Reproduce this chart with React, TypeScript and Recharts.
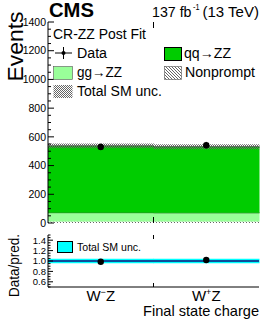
import React from 'react';
import { ComposedChart, Bar, Line, XAxis, YAxis, ErrorBar, ReferenceLine } from 'recharts';

// ---------- data ----------
const categories = ['W⁻Z', 'W⁺Z'];
const nonpromptValues = [10, 10];
const ggZZValues = [62, 61];
const qqZZValues = [465, 460];
const totalUncValues = [17, 17];
const dataValues = [530, 542];
const dataErrors = [23, 23];
const ratioValues = [0.987, 1.02];
const ratioErrors = [0.043, 0.043];
const ratioBandUnc = [0.045, 0.045];

const eventTicks = [0, 50, 100, 150, 200, 250, 300, 350, 400, 450, 500, 550, 600, 650, 700, 750, 800, 850, 900, 950, 1000, 1050, 1100, 1150, 1200, 1250, 1300, 1350, 1400];
const eventLabels = [0, 200, 400, 600, 800, 1000, 1200, 1400];
const ratioTicks = [0.5, 0.55, 0.6, 0.65, 0.7, 0.75, 0.8, 0.85, 0.9, 0.95, 1.0, 1.05, 1.1, 1.15, 1.2, 1.25, 1.3, 1.35, 1.4, 1.45, 1.5];
const ratioLabels = [0.6, 0.8, 1.0, 1.2, 1.4];

const FONT = '"Liberation Sans", Arial, Helvetica, sans-serif';
const QQ_COLOR = '#00cc00';
const GG_COLOR = '#99ff99';
const CYAN = '#00ffff';

const topData = categories.map((c, i) => {
  const total = nonpromptValues[i] + ggZZValues[i] + qqZZValues[i];
  return {
    cat: c,
    np: nonpromptValues[i],
    gg: ggZZValues[i],
    qq: qqZZValues[i],
    band: [total - totalUncValues[i], total + totalUncValues[i]],
    data: dataValues[i],
    dataErr: dataErrors[i],
  };
});

const ratioData = categories.map((c, i) => ({
  cat: c,
  band: [1 - ratioBandUnc[i], 1 + ratioBandUnc[i]],
  ratio: ratioValues[i],
  ratioErr: ratioErrors[i],
}));

// ---------- helpers ----------
const isIn = (arr: number[], v: number) => arr.some((a) => Math.abs(a - v) < 1e-6);

const makeYTick = (labels: number[], side: 'left' | 'right', fmt: (v: number) => string, fs: number, major: number, minor: number) =>
  (props: any) => {
    const { x, y, payload } = props;
    const isMajor = isIn(labels, payload.value);
    const len = isMajor ? major : minor;
    const dir = side === 'left' ? 1 : -1;
    return (
      <g>
        <line x1={x} x2={x + dir * len} y1={y} y2={y} stroke="#000" strokeWidth={1} />
        {side === 'left' && isMajor && (
          <text x={x - 2} y={y} dy={fs * 0.36} textAnchor="end" fontSize={fs} fontFamily={FONT} fill="#000">
            {fmt(payload.value)}
          </text>
        )}
      </g>
    );
  };

const supMap: Record<string, string> = { '⁻': '−', '⁺': '+' };

const CategoryTick = (props: any) => {
  const { x, y, payload } = props;
  const s: string = payload.value;
  const chars = Array.from(s);
  return (
    <text x={x} y={y + 14} textAnchor="middle" fontSize={15} fontFamily={FONT} fill="#000">
      {chars.map((ch, i) =>
        supMap[ch] ? (
          <tspan key={i} fontSize={9} dy={-6}>
            {supMap[ch]}
          </tspan>
        ) : (
          <tspan key={i} dy={i > 0 && supMap[chars[i - 1]] ? 6 : 0}>
            {ch}
          </tspan>
        )
      )}
    </text>
  );
};

const edgeBar = (fill: string, edge: string) => (props: any) => {
  const { x, y, width, height } = props;
  if (height == null || width == null) return null;
  return (
    <g>
      <rect x={x} y={y} width={width} height={height} fill={fill} />
      <line x1={x} x2={x + width} y1={y} y2={y} stroke={edge} strokeWidth={1} />
    </g>
  );
};

const DataDot = (props: any) => {
  const { cx, cy } = props;
  if (cx == null || cy == null) return null;
  return <circle cx={cx} cy={cy} r={3.2} fill="#000" />;
};

// layout constants
const PLOT_LEFT = 48;
const PLOT_RIGHT = 259;
const TOP_Y0 = 22;
const TOP_Y1 = 223;
const R_Y0 = 235;
const R_Y1 = 287;
const MID_X = (PLOT_LEFT + PLOT_RIGHT) / 2;
const LEG_FS = 14;

const T = (p: { x: number; y: number; fs: number; len?: number; anchor?: string; bold?: boolean; children: React.ReactNode }) => (
  <text
    x={p.x}
    y={p.y}
    fontSize={p.fs}
    fontFamily={FONT}
    fontWeight={p.bold ? 'bold' : 'normal'}
    textAnchor={p.anchor || 'start'}
    fill="#000"
    {...(p.len ? { textLength: p.len, lengthAdjust: 'spacingAndGlyphs' } : {})}
  >
    {p.children}
  </text>
);

export default function App() {
  return (
    <div style={{ position: 'absolute', left: 0, top: 0, width: 270, height: 327, background: '#fff', fontFamily: FONT }}>
      {/* top panel */}
      <div style={{ position: 'absolute', left: 0, top: 0 }}>
        <ComposedChart
          width={270}
          height={230}
          data={topData}
          margin={{ top: TOP_Y0, right: 270 - PLOT_RIGHT, bottom: 230 - TOP_Y1, left: 0 }}
          barCategoryGap={0}
          barGap={0}
        >
          <defs>
            <pattern id="hatchNP" patternUnits="userSpaceOnUse" width="3" height="3">
              <path d="M-1,-1 L4,4" stroke="#222" strokeWidth="0.7" />
            </pattern>
            <pattern id="hatchUnc" patternUnits="userSpaceOnUse" width="2" height="2">
              <rect x="0" y="0" width="1" height="1" fill="#666" />
              <rect x="1" y="1" width="1" height="1" fill="#666" />
            </pattern>
          </defs>
          <XAxis dataKey="cat" tick={false} tickLine={false} axisLine={{ stroke: '#000' }} height={0} />
          <XAxis dataKey="cat" xAxisId="top" orientation="top" tick={false} tickLine={false} axisLine={{ stroke: '#000' }} height={0} />
          <XAxis dataKey="cat" xAxisId="band" hide />
          <YAxis
            type="number"
            domain={[0, 1400]}
            ticks={eventTicks}
            interval={0}
            width={PLOT_LEFT}
            tickLine={false}
            tickSize={0}
            tickMargin={0}
            axisLine={{ stroke: '#000' }}
            tick={makeYTick(eventLabels, 'left', (v) => String(v), 10.5, 6, 3)}
            allowDataOverflow
          />
          <YAxis
            yAxisId="r"
            orientation="right"
            type="number"
            domain={[0, 1400]}
            ticks={eventTicks}
            interval={0}
            width={0}
            tickLine={false}
            tickSize={0}
            tickMargin={0}
            axisLine={{ stroke: '#000' }}
            tick={makeYTick(eventLabels, 'right', (v) => String(v), 10.5, 6, 3)}
            allowDataOverflow
          />
          <Bar dataKey="np" stackId="s" fill="url(#hatchNP)" isAnimationActive={false} />
          <Bar dataKey="gg" stackId="s" shape={edgeBar(GG_COLOR, '#1d5e1d')} isAnimationActive={false} />
          <Bar dataKey="qq" stackId="s" shape={edgeBar(QQ_COLOR, '#2b4f2b')} isAnimationActive={false} />
          <Bar dataKey="band" xAxisId="band" fill="url(#hatchUnc)" isAnimationActive={false} />
          <Line dataKey="data" stroke="none" dot={<DataDot />} activeDot={false} isAnimationActive={false}>
            <ErrorBar dataKey="dataErr" width={0} stroke="#000" strokeWidth={1} direction="y" />
          </Line>
        </ComposedChart>
      </div>

      {/* ratio panel */}
      <div style={{ position: 'absolute', left: 0, top: 230 }}>
        <ComposedChart
          width={270}
          height={97}
          data={ratioData}
          margin={{ top: R_Y0 - 230, right: 270 - PLOT_RIGHT, bottom: 0, left: 0 }}
          barCategoryGap={0}
          barGap={0}
        >
          <XAxis
            dataKey="cat"
            height={327 - R_Y1}
            tickLine={false}
            tickSize={0}
            tickMargin={0}
            axisLine={{ stroke: '#000' }}
            tick={<CategoryTick />}
            interval={0}
          />
          <XAxis dataKey="cat" xAxisId="top" orientation="top" tick={false} tickLine={false} axisLine={{ stroke: '#000' }} height={0} />
          <YAxis
            type="number"
            domain={[0.5, 1.5]}
            ticks={ratioTicks}
            interval={0}
            width={PLOT_LEFT}
            tickLine={false}
            tickSize={0}
            tickMargin={0}
            axisLine={{ stroke: '#000' }}
            tick={makeYTick(ratioLabels, 'left', (v) => v.toFixed(1), 9.5, 5, 2.5)}
            allowDataOverflow
          />
          <YAxis
            yAxisId="r"
            orientation="right"
            type="number"
            domain={[0.5, 1.5]}
            ticks={ratioTicks}
            interval={0}
            width={0}
            tickLine={false}
            tickSize={0}
            tickMargin={0}
            axisLine={{ stroke: '#000' }}
            tick={makeYTick(ratioLabels, 'right', (v) => v.toFixed(1), 9.5, 5, 2.5)}
            allowDataOverflow
          />
          <Bar dataKey="band" fill={CYAN} isAnimationActive={false} />
          <ReferenceLine y={1} stroke="#0b4f9c" strokeWidth={2} />
          <Line dataKey="ratio" stroke="none" dot={<DataDot />} activeDot={false} isAnimationActive={false}>
            <ErrorBar dataKey="ratioErr" width={0} stroke="#000" strokeWidth={1} direction="y" />
          </Line>
        </ComposedChart>
      </div>

      {/* texts and legends */}
      <svg width={270} height={327} style={{ position: 'absolute', left: 0, top: 0, pointerEvents: 'none' }}>
        <defs>
          <pattern id="lgNP" patternUnits="userSpaceOnUse" width="3" height="3">
            <path d="M-1,-1 L4,4" stroke="#222" strokeWidth="0.7" />
          </pattern>
          <pattern id="lgUnc" patternUnits="userSpaceOnUse" width="2" height="2">
            <rect x="0" y="0" width="1" height="1" fill="#666" />
            <rect x="1" y="1" width="1" height="1" fill="#666" />
          </pattern>
        </defs>
        {/* bin-edge ticks */}
        <line x1={MID_X} x2={MID_X} y1={TOP_Y1} y2={TOP_Y1 - 6} stroke="#000" />
        <line x1={MID_X} x2={MID_X} y1={TOP_Y0} y2={TOP_Y0 + 6} stroke="#000" />
        <line x1={MID_X} x2={MID_X} y1={R_Y0} y2={R_Y0 + 4} stroke="#000" />
        <line x1={MID_X} x2={MID_X} y1={R_Y1} y2={R_Y1 - 4} stroke="#000" />

        <T x={49} y={17} fs={19.5} len={45} bold>CMS</T>
        <T x={152} y={17} fs={15} len={39.5}>137 fb</T>
        <T x={193} y={9.5} fs={8.5} len={6.5}>-1</T>
        <T x={259} y={17} fs={15} len={56.5} anchor="end">(13 TeV)</T>
        <text transform="translate(22.5,11.5) rotate(-90)" textAnchor="end" fontSize={22.5} fontFamily={FONT} fill="#000" textLength={70} lengthAdjust="spacingAndGlyphs">Events</text>
        <text transform="translate(18.5,234) rotate(-90)" textAnchor="end" fontSize={14.5} fontFamily={FONT} fill="#000" textLength={63} lengthAdjust="spacingAndGlyphs">Data/pred.</text>
        <T x={259} y={316} fs={14.5} len={116} anchor="end">Final state charge</T>

        <T x={53} y={39} fs={LEG_FS} len={93}>CR-ZZ Post Fit</T>
        {/* Data */}
        <line x1={55} x2={72} y1={53} y2={53} stroke="#000" />
        <line x1={63.5} x2={63.5} y1={47} y2={59} stroke="#000" />
        <circle cx={63.5} cy={53} r={2} fill="#000" />
        <T x={77} y={58} fs={LEG_FS} len={30}>Data</T>
        {/* qq->ZZ */}
        <rect x={164.5} y={47.5} width={17} height={13} fill={QQ_COLOR} stroke="#000" strokeWidth={1} />
        <T x={184} y={58} fs={LEG_FS} len={47}>qq→ZZ</T>
        {/* gg->ZZ */}
        <rect x={53.5} y={66.5} width={19} height={13} fill={GG_COLOR} stroke="#555" strokeWidth={0.6} />
        <T x={77} y={77} fs={LEG_FS} len={45}>gg→ZZ</T>
        {/* Nonprompt */}
        <rect x={164.5} y={66.5} width={17} height={13} fill="url(#lgNP)" stroke="#555" strokeWidth={0.6} />
        <T x={185} y={77} fs={LEG_FS} len={70}>Nonprompt</T>
        {/* Total SM unc */}
        <rect x={53.5} y={85} width={19} height={13} fill="url(#lgUnc)" />
        <T x={77} y={96} fs={LEG_FS} len={85}>Total SM unc.</T>

        {/* ratio legend */}
        <rect x={57.5} y={241.5} width={15} height={11} fill={CYAN} stroke="#000" strokeWidth={1} />
        <T x={77} y={251} fs={10.4} len={64}>Total SM unc.</T>
      </svg>
    </div>
  );
}
